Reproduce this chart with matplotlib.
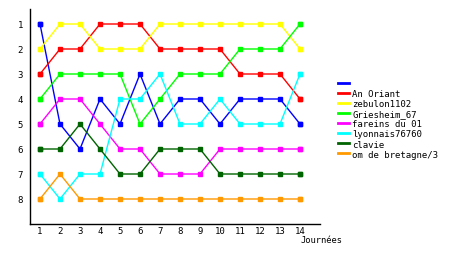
import matplotlib
matplotlib.use("Agg")
import matplotlib.pyplot as plt
from matplotlib.lines import Line2D

# rank per round ("journée") for each player
journees = list(range(1, 15))
names = ["", "An Oriant", "zebulon1102", "Griesheim_67", "fareins du 01",
         "lyonnais76760", "clavie", "om de bretagne/3"]
colors = ["#0000ff", "#ff0000", "#ffff00", "#00ff00", "#ff00ff",
          "#00ffff", "#006400", "#ff9900"]

blue = [1, 5, 6, 4, 5, 3, 5, 4, 4, 5, 4, 4, 4, 5]
red = [3, 2, 2, 1, 1, 1, 2, 2, 2, 2, 3, 3, 3, 4]
yellow = [2, 1, 1, 2, 2, 2, 1, 1, 1, 1, 1, 1, 1, 2]
green = [4, 3, 3, 3, 3, 5, 4, 3, 3, 3, 2, 2, 2, 1]
magenta = [5, 4, 4, 5, 6, 6, 7, 7, 7, 6, 6, 6, 6, 6]
cyan = [7, 8, 7, 7, 4, 4, 3, 5, 5, 4, 5, 5, 5, 3]
darkgreen = [6, 6, 5, 6, 7, 7, 6, 6, 6, 7, 7, 7, 7, 7]
orange = [8, 7, 8, 8, 8, 8, 8, 8, 8, 8, 8, 8, 8, 8]
series = [blue, red, yellow, green, magenta, cyan, darkgreen, orange]

W, H = 460, 255
fig = plt.figure(figsize=(W / 100, H / 100), dpi=100)
fig.patch.set_facecolor("white")
ax = fig.add_axes([30 / W, (H - 225) / H, 290 / W, 215 / H])

for vals, c in zip(series, colors):
    ax.plot(journees, vals, color=c, lw=1.0, marker="s", ms=2.2,
            mec=c, mfc=c, solid_joinstyle="miter")
    ax.plot([journees[0], journees[-1]], [vals[0], vals[-1]], ls="none",
            marker="s", ms=3, color=c)

ax.set_xlim(0.5, 15)
ax.set_ylim(9, 0.4)
ax.set_xticks(journees)
ax.set_yticks(range(1, 9))
ax.tick_params(length=0, labelsize=6.5)
ax.tick_params(axis="x", pad=1.5)
ax.tick_params(axis="y", pad=5)
for lab in ax.get_xticklabels() + ax.get_yticklabels():
    lab.set_family("DejaVu Sans Mono")
for s in ["top", "right"]:
    ax.spines[s].set_visible(False)
for s in ["left", "bottom"]:
    ax.spines[s].set_linewidth(1.0)
    ax.spines[s].set_color("black")

fig.text(301 / W, 1 - 241 / H, "Journées", fontsize=6.3,
         family="DejaVu Sans Mono", va="center")

handles = [Line2D([0], [0], color=c, lw=2) for c in colors]
leg = fig.legend(handles, names, loc="upper left",
                 bbox_to_anchor=(338 / W, 1 - 80 / H), frameon=False,
                 handlelength=1.2, handletextpad=0.4, labelspacing=0.12,
                 borderaxespad=0, borderpad=0,
                 prop={"family": "DejaVu Sans Mono", "size": 6.5})

fig.savefig("out.png", dpi=100)
